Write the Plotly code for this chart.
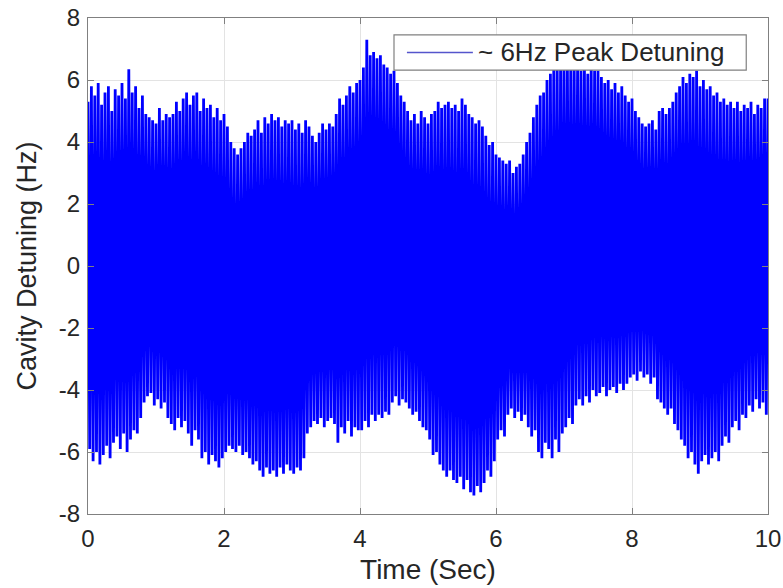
import numpy as np
import plotly.graph_objects as go

# Upper peaks of the detuning signal, sampled every 0.05 s from t=0 to t=10
upper_peaks = [
    5.3, 5.8, 5.5, 5.9, 5.2, 5.6, 5.8, 5.0, 5.7, 5.5,
    5.9, 5.4, 6.35, 5.6, 5.8, 5.1, 5.5, 4.9, 4.8, 4.7,
    4.6, 5.1, 4.7, 4.9, 4.8, 4.9, 5.3, 5.0, 5.4, 5.6,
    5.2, 5.5, 5.6, 5.0, 5.4, 5.1, 5.2, 4.8, 5.1, 4.7,
    4.9, 4.5, 4.0, 3.8, 3.6, 3.8, 4.0, 4.3, 4.2, 4.4,
    4.7, 4.3, 4.8, 4.6, 4.9, 4.7, 4.8, 4.5, 4.7, 4.6,
    4.7, 4.4, 4.6, 4.3, 4.7, 4.5, 4.2, 4.0, 4.3, 4.6,
    4.4, 4.6, 4.5, 4.9, 5.4, 5.2, 5.5, 5.8, 5.6, 5.9,
    6.0, 6.4, 7.3, 6.8, 6.9, 6.7, 6.8, 6.5, 6.4, 6.2,
    6.3, 5.9, 5.5, 5.3, 5.0, 4.7, 4.9, 4.6, 5.0, 4.8,
    4.6, 4.9, 5.0, 5.3, 5.1, 5.2, 5.3, 5.1, 5.2, 5.0,
    5.4, 5.2, 4.9, 4.8, 4.6, 4.7, 4.5, 4.2, 3.9, 4.0,
    3.6, 3.5, 3.4, 3.3, 3.4, 3.0, 3.2, 3.3, 3.6, 4.0,
    4.3, 4.8, 5.2, 5.5, 5.6, 6.0, 6.2, 6.5, 6.4, 6.6,
    6.8, 6.5, 6.7, 6.4, 6.6, 6.3, 6.5, 6.2, 6.4, 6.3,
    6.3, 6.1, 5.9, 6.0, 5.7, 5.9, 5.6, 5.8, 5.5, 5.3,
    5.4, 5.0, 4.8, 4.6, 4.5, 4.6, 4.7, 4.4, 5.0, 5.1,
    4.9, 5.1, 5.3, 5.6, 5.8, 6.1, 5.9, 6.2, 6.1, 6.3,
    5.8, 6.0, 5.7, 5.8, 5.5, 5.6, 5.3, 5.4, 5.2, 5.3,
    5.1, 5.3, 5.0, 5.2, 5.1, 5.3, 4.9, 5.2, 5.1, 5.4,
    5.4,
]

# Lower peaks, sampled every 0.05 s from t=0.025 to t=9.975
lower_peaks = [
    -5.9, -6.3, -6.0, -6.4, -6.1, -5.8, -6.2, -5.7, -5.5, -5.9,
    -5.4, -6.0, -5.6, -5.3, -5.4, -4.9, -4.4, -4.2, -4.1, -4.5,
    -4.3, -4.6, -4.4, -4.9, -5.1, -5.3, -4.9, -5.2, -5.0, -5.4,
    -5.8, -5.3, -5.6, -6.2, -6.0, -6.4, -6.1, -6.3, -6.5, -6.2,
    -6.0, -5.8, -5.9, -6.0, -5.8, -6.1, -6.0, -6.2, -6.4, -6.3,
    -6.6, -6.8, -6.5, -6.7, -6.6, -6.8, -6.5, -6.7, -6.4, -6.6,
    -6.7, -6.5, -6.6, -6.2, -5.4, -5.2, -5.0, -5.1, -4.9, -5.2,
    -5.0, -4.9, -5.1, -5.7, -5.2, -5.4, -5.0, -5.5, -5.2, -5.3,
    -5.3, -5.0, -5.2, -4.8, -5.0, -4.8, -4.9, -4.7, -4.8, -4.4,
    -4.2, -4.5, -4.3, -4.4, -4.6, -4.8, -4.7, -5.0, -5.2, -5.3,
    -5.6, -6.1, -6.0, -6.4, -6.6, -6.8, -6.6, -6.9, -7.0, -6.8,
    -7.2, -6.9, -7.3, -7.4, -7.1, -7.3, -7.0, -6.6, -6.8, -6.3,
    -5.6, -5.3, -5.5, -4.8, -4.6, -4.9, -4.7, -5.0, -4.8, -5.2,
    -5.5, -5.3, -6.0, -6.2, -5.7, -5.9, -6.2, -5.6, -6.0, -5.4,
    -5.2, -4.9, -5.1, -4.5, -4.3, -4.5, -4.2, -4.4, -4.0, -4.2,
    -4.1, -3.9, -4.2, -4.0, -3.9, -4.1, -3.8, -4.0, -3.8, -3.6,
    -3.5, -3.7, -3.4, -3.6, -3.5, -3.8, -3.6, -4.3, -4.4, -4.6,
    -4.8, -4.6, -5.1, -5.3, -5.6, -5.8, -6.2, -6.0, -6.4, -6.7,
    -6.3, -6.1, -6.4, -6.2, -6.0, -6.3, -5.8, -5.5, -5.7, -5.2,
    -5.0, -5.3, -4.8, -4.9, -4.5, -4.7, -4.3, -4.6, -4.4, -4.8,
]

series_name = "~ 6Hz Peak Detuning"
y_tick_vals = [-8, -6, -4, -2, 0, 2, 4, 6, 8]
y_tick_text = ["-8", "-6", "-4", "-2", "0", "2", "4", "6", "8"]
x_tick_vals = [0, 2, 4, 6, 8, 10]
x_tick_text = ["0", "2", "4", "6", "8", "10"]

t_upper = np.arange(len(upper_peaks)) * 0.05
t_lower = np.arange(len(lower_peaks)) * 0.05 + 0.025

# interleave upper and lower peaks into one oscillating trace
t_sig, y_sig = [], []
for i in range(len(upper_peaks)):
    t_sig.append(t_upper[i]); y_sig.append(upper_peaks[i])
    if i < len(lower_peaks):
        t_sig.append(t_lower[i]); y_sig.append(lower_peaks[i])

FONT = "Liberation Sans, Arial, Helvetica"
TXT = "#262626"

fig = go.Figure()
fig.add_trace(go.Scatter(
    x=t_sig, y=y_sig, mode="lines",
    line=dict(color="#0000ff", width=2.8, simplify=False),
    name=series_name, showlegend=False,
))

axis_common = dict(
    showline=True, linecolor="#808080", linewidth=1.2, mirror="ticks",
    ticks="inside", ticklen=6, tickcolor="#808080",
    showgrid=True, gridcolor="#e3e3e3", gridwidth=1,
    zeroline=False, automargin=False,
    tickfont=dict(family=FONT, size=24, color=TXT),
)

# legend box (MATLAB style), drawn in paper coordinates
LX0, LX1, LY0, LY1 = 0.450, 0.968, 0.895, 0.966
LYM = (LY0 + LY1) / 2
fig.add_shape(type="rect", xref="paper", yref="paper",
              x0=LX0, x1=LX1, y0=LY0, y1=LY1, layer="above",
              fillcolor="white", line=dict(color="#808080", width=1.2))
fig.add_shape(type="line", xref="paper", yref="paper",
              x0=LX0 + 0.019, x1=LX0 + 0.116, y0=LYM, y1=LYM, layer="above",
              line=dict(color="#5555cc", width=1.5))
fig.add_annotation(xref="paper", yref="paper", x=LX0 + 0.121, y=LYM,
                   xanchor="left", yanchor="middle", showarrow=False,
                   text=series_name, font=dict(family=FONT, size=26, color=TXT))

fig.update_layout(
    template="none",
    width=783, height=588,
    margin=dict(l=88, r=15, t=18, b=74, autoexpand=False),
    paper_bgcolor="white", plot_bgcolor="white",
    font=dict(family=FONT, color=TXT),
    xaxis=dict(range=[0, 10], tickvals=x_tick_vals, ticktext=x_tick_text,
               ticklabelstandoff=3,
               title=dict(text="Time (Sec)", font=dict(size=28), standoff=8),
               **axis_common),
    yaxis=dict(range=[-8, 8], tickvals=y_tick_vals, ticktext=y_tick_text,
               ticklabelstandoff=2,
               title=dict(text="Cavity Detuning (Hz)", font=dict(size=27), standoff=14),
               **axis_common),
    showlegend=False,
)

fig.write_html("out.html")
